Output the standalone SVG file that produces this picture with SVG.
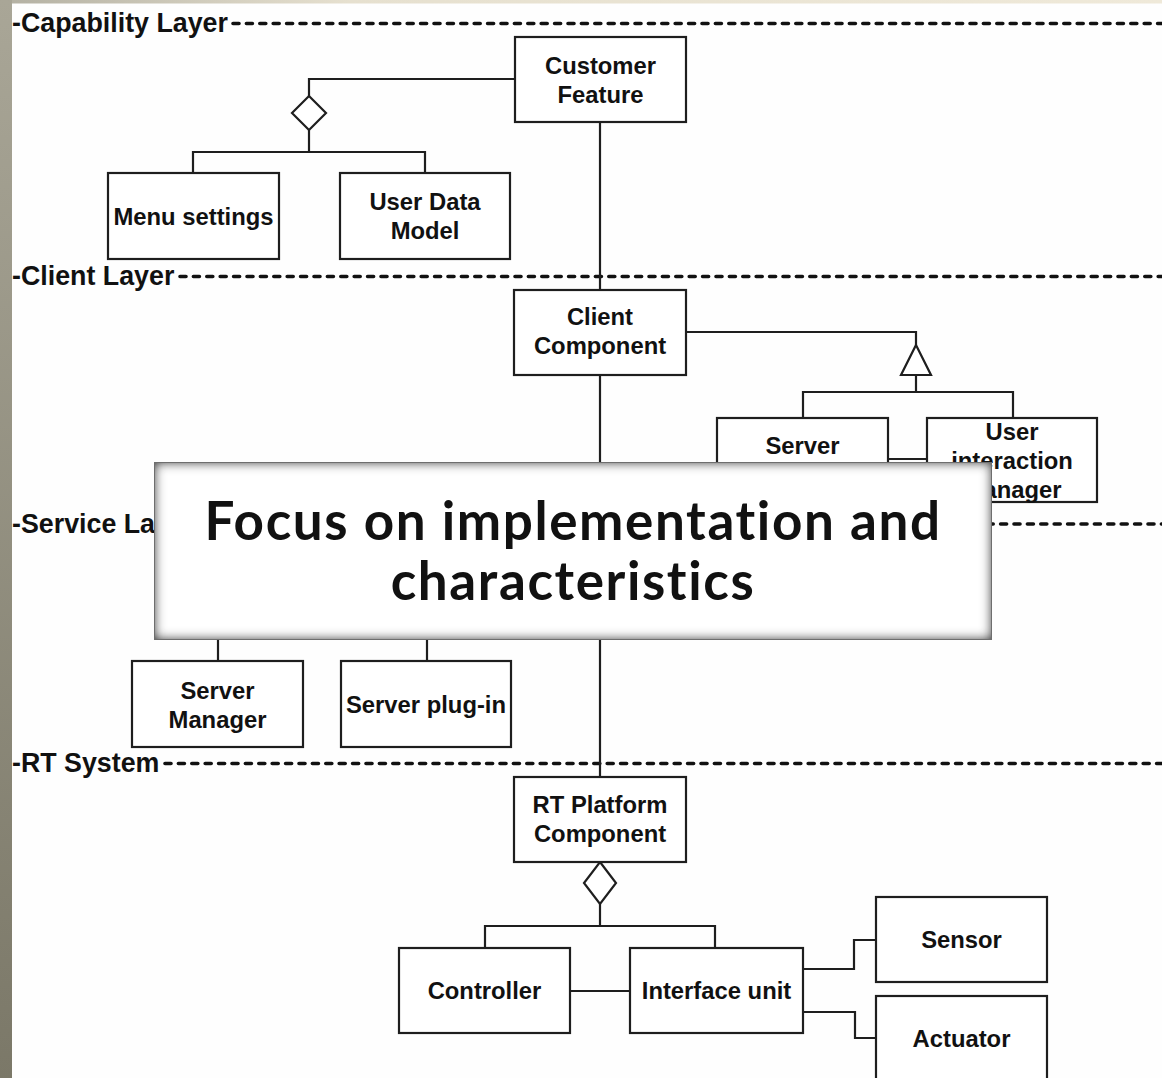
<svg xmlns="http://www.w3.org/2000/svg" width="1162" height="1078" viewBox="0 0 1162 1078">
  <defs>
    <linearGradient id="sideBar" x1="0" y1="0" x2="0" y2="1">
      <stop offset="0" stop-color="#a9a697"/>
      <stop offset="1" stop-color="#7b7868"/>
    </linearGradient>
    <linearGradient id="topBar" x1="0" y1="0" x2="1" y2="0">
      <stop offset="0" stop-color="#b3b0a2"/>
      <stop offset="0.3" stop-color="#e6e0cf"/>
      <stop offset="1" stop-color="#efe9d9"/>
    </linearGradient>
    <filter id="innerShade" x="-5%" y="-10%" width="110%" height="120%">
      <feFlood flood-color="#3c3c3c"/>
      <feComposite in2="SourceAlpha" operator="out"/>
      <feGaussianBlur stdDeviation="6"/>
      <feComposite in2="SourceAlpha" operator="in" result="shade"/>
      <feMerge>
        <feMergeNode in="SourceGraphic"/>
        <feMergeNode in="shade"/>
        <feMergeNode in="shade"/>
      </feMerge>
    </filter>
    <style>
      .layer { font-family: "Liberation Sans", Arial, sans-serif; font-weight: bold; font-size: 26.8px; fill: #111; }
      .dash { stroke: #111; stroke-width: 3.6; stroke-linecap: round; stroke-dasharray: 6 7.4; fill: none; }
      .box { fill: #fff; stroke: #1e1e1e; stroke-width: 2.2; }
      .lbl { font-family: "Liberation Sans", Arial, sans-serif; font-weight: bold; font-size: 23.8px; fill: #111; text-anchor: middle; }
      .wire { fill: none; stroke: #1e1e1e; stroke-width: 2.2; }
      .head { fill: #fff; stroke: #1e1e1e; stroke-width: 2.2; stroke-linejoin: miter; }
      .focus { font-family: Lato, "Open Sans", sans-serif; font-weight: bold; font-size: 53px; letter-spacing: 1.6px; font-variant-ligatures: none; fill: #111; text-anchor: middle; }
    </style>
  </defs>

  <!-- page background -->
  <rect x="0" y="0" width="1162" height="1078" fill="#fefefe"/>
  <rect x="0" y="0" width="1162" height="3.5" fill="url(#topBar)"/>
  <rect x="0" y="0" width="12" height="1078" fill="url(#sideBar)"/>

  <!-- layer separators -->
  <g id="layers">
    <text class="layer" x="12" y="31.5">-Capability Layer</text>
    <line class="dash" x1="233" y1="23.5" x2="1162" y2="23.5"/>
    <text class="layer" x="12" y="284.5">-Client Layer</text>
    <line class="dash" x1="180" y1="276.5" x2="1162" y2="276.5"/>
    <text class="layer" x="12" y="532.5">-Service Layer</text>
    <line class="dash" x1="210" y1="524" x2="1162" y2="524"/>
    <text class="layer" x="12" y="772">-RT System</text>
    <line class="dash" x1="165" y1="763.5" x2="1162" y2="763.5"/>
  </g>

  <!-- connectors -->
  <g id="connectors">
    <polyline class="wire" points="515,79 309,79 309,96"/>
    <polygon class="head" points="309,96 326,113 309,130 292,113"/>
    <polyline class="wire" points="309,130 309,152"/>
    <polyline class="wire" points="193,173 193,152 425,152 425,173"/>
    <line class="wire" x1="600" y1="122" x2="600" y2="290"/>

    <polyline class="wire" points="686,332 916,332 916,345"/>
    <polygon class="head" points="916,345 931,375 901,375"/>
    <polyline class="wire" points="916,375 916,392"/>
    <polyline class="wire" points="803,418 803,392 1013,392 1013,418"/>
    <line class="wire" x1="888" y1="459" x2="927" y2="459"/>

    <line class="wire" x1="600" y1="375" x2="600" y2="777"/>
    <line class="wire" x1="218" y1="600" x2="218" y2="661"/>
    <line class="wire" x1="427" y1="600" x2="427" y2="661"/>

    <polygon class="head" points="600,862 616,883 600,904 584,883"/>
    <polyline class="wire" points="600,904 600,926"/>
    <polyline class="wire" points="485,948 485,926 715,926 715,948"/>
    <line class="wire" x1="570" y1="991" x2="630" y2="991"/>
    <polyline class="wire" points="803,969 854,969 854,940 876,940"/>
    <polyline class="wire" points="803,1012 855,1012 855,1038 876,1038"/>
  </g>

  <!-- capability layer -->
  <g id="customer-feature">
    <rect class="box" x="515" y="37" width="171" height="85"/>
    <text class="lbl" x="600.5" y="73.5">Customer</text>
    <text class="lbl" x="600.5" y="102.5">Feature</text>
  </g>
  <g id="menu-settings">
    <rect class="box" x="108" y="173" width="171" height="86"/>
    <text class="lbl" x="193.5" y="224.5">Menu settings</text>
  </g>
  <g id="user-data-model">
    <rect class="box" x="340" y="173" width="170" height="86"/>
    <text class="lbl" x="425" y="209.5">User Data</text>
    <text class="lbl" x="425" y="238.5">Model</text>
  </g>

  <!-- client layer -->
  <g id="client-component">
    <rect class="box" x="514" y="290" width="172" height="85"/>
    <text class="lbl" x="600" y="325">Client</text>
    <text class="lbl" x="600" y="354">Component</text>
  </g>
  <g id="server">
    <rect class="box" x="717" y="418" width="171" height="85"/>
    <text class="lbl" x="802.5" y="453.5">Server</text>
  </g>
  <g id="user-interaction-manager">
    <rect class="box" x="927" y="418" width="170" height="84"/>
    <text class="lbl" x="1012" y="439.5">User</text>
    <text class="lbl" x="1012" y="468.5">interaction</text>
    <text class="lbl" x="1012" y="497.5">manager</text>
  </g>

  <!-- service layer -->
  <g id="server-manager">
    <rect class="box" x="132" y="661" width="171" height="86"/>
    <text class="lbl" x="217.5" y="698.5">Server</text>
    <text class="lbl" x="217.5" y="727.5">Manager</text>
  </g>
  <g id="server-plug-in">
    <rect class="box" x="341" y="661" width="170" height="86"/>
    <text class="lbl" x="426" y="712.5">Server plug-in</text>
  </g>

  <!-- RT system -->
  <g id="rt-platform-component">
    <rect class="box" x="514" y="777" width="172" height="85"/>
    <text class="lbl" x="600" y="812.5">RT Platform</text>
    <text class="lbl" x="600" y="841.5">Component</text>
  </g>
  <g id="controller">
    <rect class="box" x="399" y="948" width="171" height="85"/>
    <text class="lbl" x="484.5" y="999">Controller</text>
  </g>
  <g id="interface-unit">
    <rect class="box" x="630" y="948" width="173" height="85"/>
    <text class="lbl" x="716.5" y="999">Interface unit</text>
  </g>
  <g id="sensor">
    <rect class="box" x="876" y="897" width="171" height="85"/>
    <text class="lbl" x="961.5" y="948">Sensor</text>
  </g>
  <g id="actuator">
    <rect class="box" x="876" y="996" width="171" height="100"/>
    <text class="lbl" x="961.5" y="1046.5">Actuator</text>
  </g>

  <!-- callout panel -->
  <g id="focus-callout">
    <rect x="154" y="462" width="838" height="178" fill="#fff" filter="url(#innerShade)"/>
    <rect x="154.5" y="462.5" width="837" height="177" fill="none" stroke="#6e6e6e" stroke-width="1"/>
    <text class="focus" x="573" y="540">Focus on implementation and</text>
    <text class="focus" x="573" y="600">characteristics</text>
  </g>
</svg>
